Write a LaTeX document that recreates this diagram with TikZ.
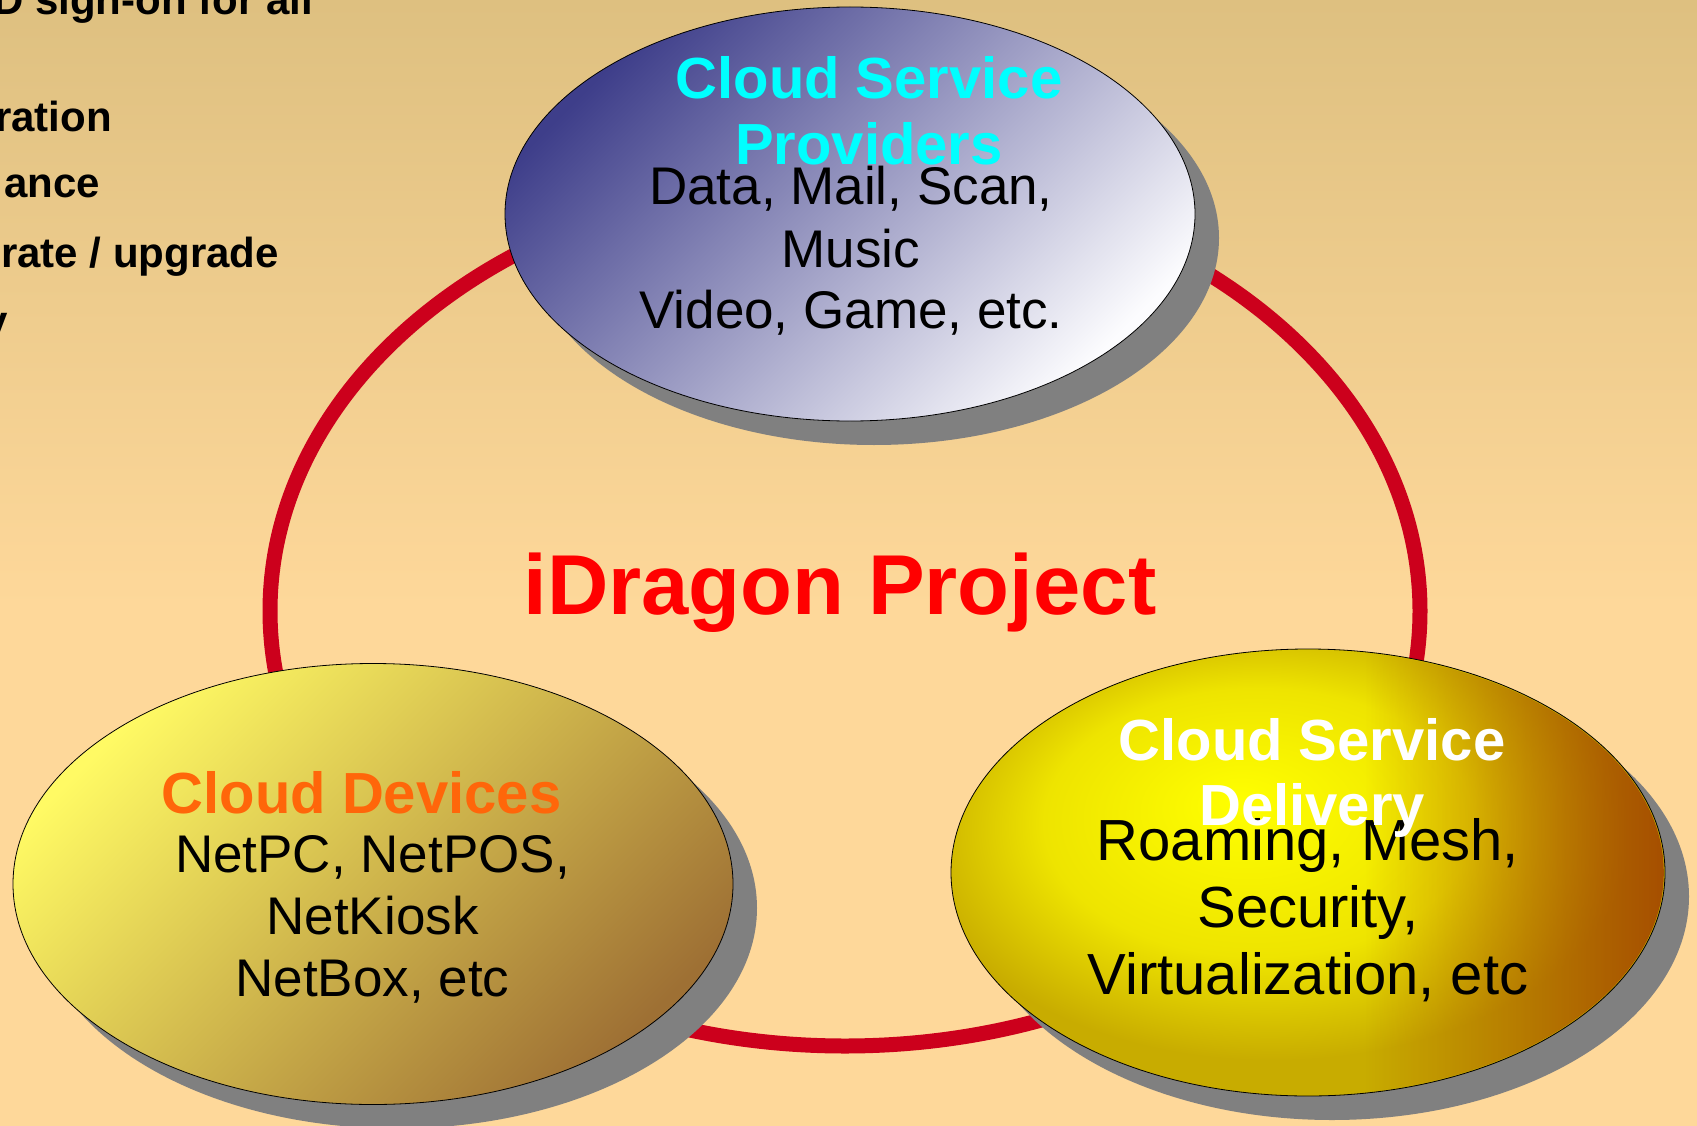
\documentclass[tikz,border=0pt]{standalone}
\usepackage{fontspec}
\setmainfont{Liberation Sans}
\usetikzlibrary{shapes.geometric,shadows,fadings}
\definecolor{bgtop}{RGB}{222,192,128}
\definecolor{bgbot}{RGB}{254,216,154}
\definecolor{ringred}{RGB}{204,0,28}
\definecolor{shadowgray}{RGB}{128,128,128}
\definecolor{provA}{RGB}{62,62,138}
\definecolor{provB}{RGB}{252,252,254}
\definecolor{devA}{RGB}{255,250,100}
\definecolor{devB}{RGB}{158,112,52}
\definecolor{ballA}{RGB}{255,255,0}
\definecolor{ballB}{RGB}{238,228,0}
\definecolor{ballC}{RGB}{200,172,0}
\definecolor{ballD}{RGB}{160,62,0}
\definecolor{devorange}{RGB}{255,102,10}
\definecolor{provcyan}{RGB}{0,255,255}
\definecolor{projred}{RGB}{255,0,0}
\pgfdeclareverticalshading{bgshade}{100bp}{color(0bp)=(bgbot); color(48bp)=(bgbot); color(75bp)=(bgtop); color(100bp)=(bgtop)}
\pgfdeclareradialshading{ballshade}{\pgfpoint{-5bp}{8bp}}{color(0bp)=(ballA); color(15bp)=(ballB); color(25bp)=(ballC); color(50bp)=(ballC)}
\pgfdeclarehorizontalshading{rfadeshade}{100bp}{color(0bp)=(pgftransparent!100); color(54bp)=(pgftransparent!100); color(75bp)=(pgftransparent!0); color(100bp)=(pgftransparent!0)}
\pgfdeclarefading{toright}{\pgfuseshading{rfadeshade}}
\begin{document}
\begin{tikzpicture}[x=1pt,y=-1pt,
  bubble/.style={ellipse, draw=black, line width=0.8pt, inner sep=0pt, outer sep=0pt,
    drop shadow={shadow xshift=24pt, shadow yshift=-24pt, fill=shadowgray, opacity=1}},
  ttl/.style={font=\fontsize{58}{66}\selectfont\bfseries, inner sep=0pt, anchor=base},
  bodytxt/.style={font=\fontsize{53}{61}\selectfont, inner sep=0pt, anchor=base},
  sidetxt/.style={font=\fontsize{42}{50}\selectfont\bfseries, inner sep=0pt, anchor=base east}]
\useasboundingbox (0,0) rectangle (1697,1126);
\shade[shading=bgshade] (0,0) rectangle (1697,1126);
% side text (cut off at the left border)
\node[sidetxt] (s1) at (313,15) {D sign-on for all};
\node[sidetxt] (s2) at (112,132) {ration};
\node[sidetxt] (s3) at (100,198) {ance};
\node[sidetxt] (s4) at (279,267) {rate / upgrade};
\node[sidetxt] (s5) at (8,335) {y};
% ring
\draw[ringred, line width=15pt] (845,611) ellipse [x radius=575, y radius=435];
% project title
\node[font=\fontsize{85}{100}\selectfont\bfseries, text=projred, inner sep=0pt, anchor=base] (proj) at (840,614) {iDragon Project};
% top bubble
\node[bubble, minimum width=690pt, minimum height=414pt, top color=provA, bottom color=provB, shading angle=45] (prov) at (850,214) {};
\node[bodytxt] (prov1) at (851,205) {Data, Mail, Scan,};
\node[bodytxt] (prov2) at (851,267) {Music};
\node[bodytxt] (prov3) at (851,328) {Video, Game, etc.};
\node[ttl, text=provcyan] (provt1) at (869,99) {Cloud Service};
\node[ttl, text=provcyan] (provt2) at (869,165) {Providers};
% bottom-left bubble
\node[bubble, minimum width=720pt, minimum height=441pt, top color=devA, bottom color=devB, shading angle=45] (dev) at (373,884) {};
\node[bodytxt] (dev1) at (372.5,872) {NetPC, NetPOS,};
\node[bodytxt] (dev2) at (372.5,934) {NetKiosk};
\node[bodytxt] (dev3) at (372.5,996) {NetBox, etc};
\node[ttl, text=devorange] (devt) at (361.5,813) {Cloud Devices};
% bottom-right bubble
\node[bubble, minimum width=714pt, minimum height=447pt, shade, shading=ballshade] (dlv) at (1308,872.5) {};
\fill[ballD, path fading=toright, fill opacity=0.85] (dlv.center) ellipse [x radius=356, y radius=222.5];
\node[bodytxt, font=\fontsize{58}{67}\selectfont] (dlv1) at (1308,860) {Roaming, Mesh,};
\node[bodytxt, font=\fontsize{58}{67}\selectfont] (dlv2) at (1308,927) {Security,};
\node[bodytxt, font=\fontsize{58}{67}\selectfont] (dlv3) at (1308,994) {Virtualization, etc};
\node[ttl, text=white] (dlvt1) at (1312,760) {Cloud Service};
\node[ttl, text=white] (dlvt2) at (1312,825) {Delivery};
\end{tikzpicture}
\end{document}
